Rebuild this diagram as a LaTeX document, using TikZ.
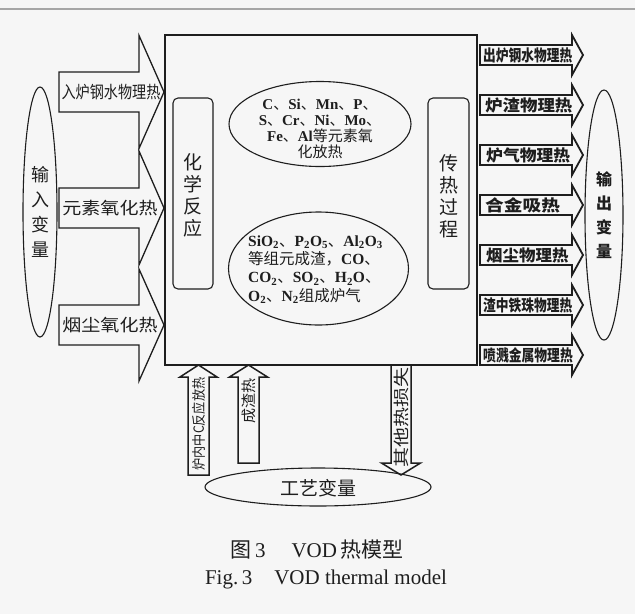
\documentclass[tikz,border=0pt]{standalone}
\usepackage{fontspec}
\setmainfont{Liberation Serif}
\newfontfamily\cjk{Noto Sans CJK SC}
\usetikzlibrary{shapes.geometric}
\definecolor{bg}{RGB}{246,246,246}
\definecolor{ink}{RGB}{30,30,30}
\newcommand\sx[2]{\scalebox{#1}[1]{#2}}
\newcommand\dun{{\cjk\mdseries 、}}
\newcommand\zh[1]{{\cjk\mdseries #1}}
\newcommand\fs[2]{\fontsize{#1}{#2}\selectfont}
% horizontal block arrow: style, x tail, x neck, x tip, y centre, half shaft, half head
\newcommand\harrow[7]{\draw[#1] (#2,#5-#6) -- (#3,#5-#6) -- (#3,#5-#7) -- (#4,#5) -- (#3,#5+#7) -- (#3,#5+#6) -- (#2,#5+#6) -- cycle;}
% vertical block arrow: style, y tail, y neck, y tip, x centre, half shaft, half head
\newcommand\varrow[7]{\draw[#1] (#5-#6,#2) -- (#5-#6,#3) -- (#5-#7,#3) -- (#5,#4) -- (#5+#7,#3) -- (#5+#6,#3) -- (#5+#6,#2) -- cycle;}
\begin{document}
\begin{tikzpicture}[x=1pt,y=-1pt,
  ln/.style={draw=ink, line width=1.1pt},
  larr/.style={draw=ink, line width=1.3pt, line join=miter},
  rarr/.style={draw=ink, line width=1.8pt, line join=miter},
  barr/.style={draw=ink, line width=1.5pt, line join=miter},
  ell/.style={ln, ellipse, inner sep=0pt},
  rbox/.style={ln, rounded corners=5pt, inner sep=0pt},
  lab/.style={inner sep=0pt, text=ink},
  rlab/.style={lab, anchor=west, font=\cjk\bfseries\fs{16}{16}},
]
\useasboundingbox (0,0) rectangle (635,614);
\fill[bg] (0,0) rectangle (635,614);
\draw[gray!70, line width=1.5pt] (0,9) -- (635,9);

% main box
\node[ln, minimum width=312pt, minimum height=330pt, inner sep=0pt] (box) at (321,200) {};

% inner blocks
\node[rbox, minimum width=40pt, minimum height=191pt] (chem) at (193,193.5) {};
\node[lab, font=\cjk\fs{19}{22}, align=center] (chemt) at (193,195) {化\\学\\反\\应};
\node[rbox, minimum width=41pt, minimum height=191pt] (heat) at (448.5,193.5) {};
\node[lab, font=\cjk\fs{19}{22}, align=center] (heatt) at (448.5,196) {传\\热\\过\\程};

\node[ell, minimum width=182pt, minimum height=85pt] (e1) at (320,124) {};
\node[lab, font=\bfseries\fs{15}{16}, align=center] (e1t) at (320,129)
  {C\dun Si\dun Mn\dun P\dun\\S\dun Cr\dun Ni\dun Mo\dun\\Fe\dun Al\zh{等元素氧}\\\zh{化放热}};

\node[ell, minimum width=180pt, minimum height=113pt] (e2) at (318.5,268.5) {};
\node[lab, font=\bfseries\fs{15.5}{18.3}, align=left, anchor=west] (e2t) at (248,269.5)
  {SiO\textsubscript{2}\dun P\textsubscript{2}O\textsubscript{5}\dun Al\textsubscript{2}O\textsubscript{3}\\
   \zh{等组元成渣，}CO\dun\\
   CO\textsubscript{2}\dun SO\textsubscript{2}\dun H\textsubscript{2}O\dun\\
   O\textsubscript{2}\dun N\textsubscript{2}\zh{组成炉气}};

% input side
\node[ell, minimum width=34pt, minimum height=250pt] (in) at (40,212) {};
\node[lab, font=\cjk\fs{18}{25}, align=center] (int) at (40,211.5) {输\\入\\变\\量};
\harrow{larr}{59}{139}{164}{92}{20}{56.5}
\harrow{larr}{59}{139}{164}{208}{20}{57}
\harrow{larr}{59}{139}{164}{325}{20}{56}
\node[lab, font=\cjk\fs{17}{17}] (l1) at (111,92) {\sx{0.83}{入炉钢水物理热}};
\node[lab, font=\cjk\fs{17}{17}] (l2) at (110,208) {\sx{1.12}{元素氧化热}};
\node[lab, font=\cjk\fs{17}{17}] (l3) at (110,325) {\sx{1.12}{烟尘氧化热}};

% output side
\foreach \yy in {55,105,155,205,255,305,355} {\harrow{rarr}{480}{572}{583}{\yy}{10}{20}}
\node[rlab] (r1) at (483,55) {\sx{0.795}{出炉钢水物理热}};
\node[rlab] (r2) at (485,105) {\sx{1.09}{炉渣物理热}};
\node[rlab] (r3) at (486,155) {\sx{1.05}{炉气物理热}};
\node[rlab] (r4) at (485,205) {\sx{1.17}{合金吸热}};
\node[rlab] (r5) at (486,255) {\sx{1.03}{烟尘物理热}};
\node[rlab] (r6) at (483,305) {\sx{0.795}{渣中铁珠物理热}};
\node[rlab] (r7) at (483,355) {\sx{0.8}{喷溅金属物理热}};
\node[ell, minimum width=38pt, minimum height=250pt] (out) at (604,215) {};
\node[lab, font=\cjk\bfseries\fs{16}{24}, align=center] (outt) at (604,215) {输\\出\\变\\量};

% bottom
\varrow{barr}{475}{377}{365}{198.5}{10.5}{18.5}
\varrow{barr}{463}{377}{365}{248.5}{10.5}{19}
\varrow{barr}{365}{463}{475}{401}{10}{19.5}
\node[lab, rotate=90, font=\cjk\fs{14}{14}] (b1) at (198.5,424) {\sx{0.87}{炉内中C反应放热}};
\node[lab, rotate=90, font=\cjk\fs{15}{15}] (b2) at (248.5,401) {成渣热};
\node[lab, rotate=90, font=\cjk\fs{16}{16}] (b3) at (401,417) {\sx{1.25}{其他热损失}};
\node[ell, minimum width=226pt, minimum height=38pt] (proc) at (318,487) {};
\node[lab, font=\cjk\fs{19}{19}] (proct) at (318,488) {工艺变量};

% caption
\node[lab, font=\fs{21}{21}] (cap1) at (317,550) {{\cjk 图}\,3\hspace{26pt}VOD\,{\cjk 热模型}};
\node[lab, font=\fs{21}{21}] (cap2) at (326,579) {Fig.\,3\hspace{22pt}VOD thermal model};
\end{tikzpicture}
\end{document}
